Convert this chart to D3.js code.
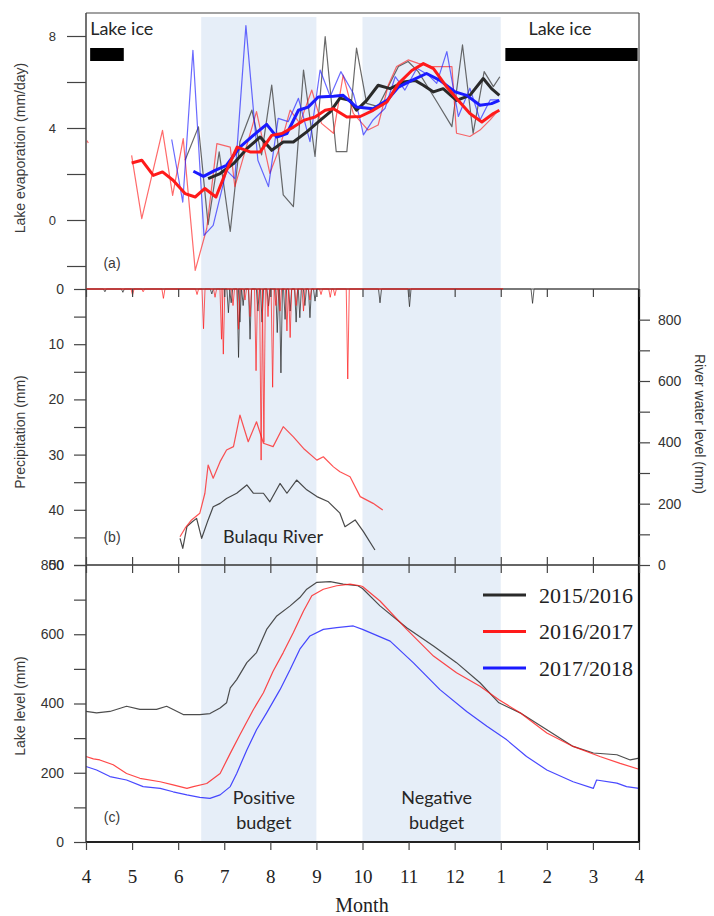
<!DOCTYPE html>
<html>
<head>
<meta charset="utf-8">
<script src="https://cdn.jsdelivr.net/npm/d3@7"></script>
<style>
  body { margin: 0; background: #fff; }
  svg { display: block; }
  .tick-sans text { font-family: 'Liberation Sans', Arial, sans-serif; font-size: 14px; fill: #333; }
  .tick-serif text { font-family: 'Liberation Serif', 'Times New Roman', serif; font-size: 19px; fill: #222; }
  .axis line { stroke: #444; stroke-width: 1.2; }
  .axis path.domain { display: none; }
  .title { font-family: 'Liberation Sans', Arial, sans-serif; font-size: 14px; fill: #3a3a3a; }
  .note { font-family: Lato, 'Open Sans', sans-serif; font-size: 18px; fill: #262626; }
  .legend { font-family: 'Liberation Serif', 'Times New Roman', serif; font-size: 22px; fill: #222; }
</style>
</head>
<body>
<script>
// x values are months counted from 1 April (0 = Apr 1, 12 = next Apr 1)
const monthLabels = [4, 5, 6, 7, 8, 9, 10, 11, 12, 1, 2, 3, 4];
const seasons = ['2015/2016', '2016/2017', '2017/2018'];

// (a) lake evaporation, mm/day: raw values and smoothed means
const evapRaw2015 = [[2.15,2.6],[2.44,4.05],[2.65,-0.2],[2.89,2.96],[3.13,-0.5],[3.34,3.4],[3.60,4.78],[3.81,2.83],[4.03,5.87],[4.28,1.09],[4.50,0.58],[4.72,6.52],[4.97,2.76],[5.19,7.97],[5.43,2.97],[5.66,2.97],[5.87,7.47],[6.09,5.07],[6.34,4.93],[6.56,5.8],[6.78,6.67],[6.99,6.89],[7.21,6.45],[7.39,5.87],[7.61,5.15],[7.94,4.06],[8.17,7.61],[8.40,3.77],[8.64,6.45],[8.84,5.8],[8.98,6.23]];
const evapRaw2016 = [[0.99,2.81],[1.21,0.06],[1.66,3.9],[1.88,1.07],[2.11,3.54],[2.37,-2.19],[2.62,-0.37],[2.84,3.32],[3.13,3.17],[3.23,1.45],[3.45,2.97],[3.70,4.71],[3.99,2.03],[4.21,3.19],[4.43,4.78],[4.64,4.2],[4.90,5.65],[5.11,4.2],[5.37,3.77],[5.58,6.3],[5.80,4.64],[6.12,3.91],[6.34,4.13],[6.56,5.87],[6.74,6.67],[6.99,6.96],[7.21,6.81],[7.50,6.67],[7.94,6.67],[8.04,3.77],[8.33,3.63],[8.55,3.91],[8.77,4.35],[8.95,4.78]];
const evapRaw2016Apr = [[0.02,3.45],[0.05,3.35]];
const evapRaw2017 = [[1.86,3.5],[2.10,0.78],[2.32,7.38],[2.56,-0.67],[2.76,-0.23],[3.05,2.16],[3.23,1.8],[3.47,8.45],[3.73,2.6],[3.96,1.45],[4.17,4.42],[4.39,4.28],[4.61,5.29],[4.86,3.41],[5.08,6.52],[5.30,5.37],[5.53,6.45],[5.80,5.51],[5.95,4.35],[6.02,3.7],[6.23,4.35],[6.49,4.86],[6.71,6.23],[6.92,5.65],[7.18,6.6],[7.43,6.3],[7.61,5.94],[7.83,7.32],[8.08,4.5],[8.33,5.73],[8.55,4.35],[8.77,5.22],[8.95,5.22]];
const evapMean2015 = [[2.65,1.8],[2.91,2.02],[3.20,2.45],[3.49,3.1],[3.78,3.61],[4.03,3.03],[4.28,3.39],[4.50,3.39],[4.79,3.83],[5.08,4.33],[5.30,4.7],[5.51,5.3],[5.73,5.2],[5.87,4.77],[6.09,5.2],[6.34,5.86],[6.60,5.71],[6.89,6.0],[7.14,6.07],[7.32,5.86],[7.54,5.57],[7.75,5.71],[8.04,5.2],[8.33,5.42],[8.62,6.15],[8.80,5.71],[8.97,5.42]];
const evapMean2016 = [[0.99,2.48],[1.21,2.6],[1.46,1.94],[1.66,2.09],[1.89,1.73],[2.15,1.15],[2.37,1.0],[2.58,1.37],[2.82,1.0],[3.05,2.16],[3.28,3.17],[3.56,2.96],[3.78,2.96],[4.03,3.68],[4.25,3.76],[4.50,4.04],[4.72,4.33],[4.97,4.48],[5.19,4.77],[5.37,4.84],[5.66,4.48],[5.95,4.5],[6.23,4.77],[6.53,5.13],[6.78,5.93],[7.07,6.5],[7.32,6.8],[7.54,6.58],[7.83,5.78],[8.08,5.2],[8.33,4.63],[8.59,4.26],[8.84,4.63],[8.97,4.77]];
const evapMean2017 = [[2.33,2.12],[2.55,1.9],[2.80,2.16],[3.05,2.38],[3.34,3.17],[3.63,3.68],[3.92,4.16],[4.14,3.61],[4.36,3.76],[4.61,4.77],[4.82,4.91],[5.04,5.35],[5.37,5.38],[5.58,5.42],[5.87,4.91],[6.23,4.84],[6.53,5.2],[6.78,5.78],[7.07,6.07],[7.39,6.37],[7.68,6.07],[8.01,5.57],[8.26,5.42],[8.55,4.99],[8.80,5.06],[8.97,5.2]];

// lake ice cover periods
const icePeriods = [[0.09, 0.82], [9.1, 11.97]];

// (b) daily precipitation events (mm) and Bulaqu River water level (mm)
const rain2015 = [[0.41,0.5],[0.80,0.6],[2.73,0.9],[3.09,4.3],[3.15,2.5],[3.31,12.4],[3.34,6],[3.41,3],[3.56,9.1],[3.73,4],[3.82,6],[3.96,3.1],[4.15,7.9],[4.23,15.2],[4.32,5.5],[4.43,4],[4.56,6],[4.64,5.2],[4.75,3],[4.86,5.2],[4.97,2.2],[6.38,2.5],[7.02,3.2],[9.69,2.6]];
const rain2016 = [[1.01,1.1],[1.24,0.5],[1.68,1.7],[2.41,1],[2.55,7.2],[2.80,1.5],[2.94,9.1],[2.98,11.8],[3.19,3],[3.31,7.3],[3.45,2],[3.56,5],[3.69,14.8],[3.80,31],[3.86,27.8],[3.95,5],[4.05,17.8],[4.12,3],[4.21,4],[4.36,7.6],[4.43,8.8],[4.56,3],[4.72,4],[4.86,2],[5.10,1],[5.30,1.5],[5.40,1.2],[5.68,16.3]];
const river2015 = [[2.04,87],[2.10,54],[2.19,125],[2.30,140],[2.40,152],[2.51,87],[2.65,147],[2.76,190],[2.91,201],[3.05,217],[3.27,234],[3.49,261],[3.63,234],[3.85,234],[3.99,206],[4.21,266],[4.36,234],[4.57,277],[4.79,245],[5.01,223],[5.26,206],[5.51,169],[5.62,125],[5.84,147],[6.02,109],[6.27,49]];
const river2016 = [[2.04,92],[2.15,120],[2.29,147],[2.47,169],[2.58,234],[2.65,326],[2.76,283],[2.91,337],[3.05,375],[3.20,386],[3.34,489],[3.52,402],[3.70,467],[3.85,397],[4.06,386],[4.28,451],[4.50,418],[4.72,380],[5.01,342],[5.15,353],[5.37,320],[5.51,304],[5.73,288],[5.95,223],[6.23,201],[6.44,179]];

// (c) lake level (mm)
const lake2015 = [[0,377],[0.23,373],[0.52,377],[0.88,392],[1.17,383],[1.53,383],[1.75,392],[2.11,368],[2.47,368],[2.69,371],[2.91,387],[3.05,402],[3.13,445],[3.27,469],[3.49,518],[3.70,547],[3.92,614],[4.14,653],[4.43,682],[4.64,706],[4.79,730],[5.01,750],[5.30,752],[5.58,745],[5.9,740],[6.0,732],[6.38,682],[6.96,619],[7.54,566],[8.04,518],[8.55,460],[8.96,402],[9.42,373],[10.0,324],[10.57,276],[11.01,257],[11.52,252],[11.81,237],[12,242]];
const lake2016 = [[0,247],[0.16,240],[0.30,237],[0.59,223],[0.88,198],[1.17,184],[1.61,174],[1.89,165],[2.19,155],[2.33,160],[2.62,169],[2.91,198],[3.13,256],[3.34,310],[3.63,382],[3.85,431],[4.06,493],[4.28,547],[4.50,605],[4.72,667],[4.90,711],[5.15,730],[5.44,740],[5.73,745],[5.95,740],[6.0,738],[6.38,696],[6.96,614],[7.54,537],[8.04,489],[8.55,450],[8.96,411],[9.42,373],[10.0,315],[10.57,276],[11.15,247],[11.59,227],[12,210]];
const lake2017 = [[0,218],[0.23,208],[0.52,189],[0.88,179],[1.24,160],[1.61,155],[1.89,145],[2.19,136],[2.47,129],[2.69,126],[2.91,136],[3.13,160],[3.27,198],[3.49,266],[3.70,324],[3.92,373],[4.21,440],[4.43,498],[4.64,557],[4.86,595],[5.15,614],[5.44,619],[5.80,624],[6.0,614],[6.60,580],[7.10,518],[7.68,440],[8.26,377],[8.70,334],[9.13,295],[9.56,247],[10.0,208],[10.57,174],[11.01,155],[11.08,179],[11.52,170],[11.73,160],[12,155]];

// water budget periods shaded in blue
const budgetPeriods = [
  { from: 2.5, to: 5, label: ['Positive', 'budget'] },
  { from: 6, to: 9, label: ['Negative', 'budget'] }
];

const black = '#2a2a2a';
const red = '#ff1a1a';
const blue = '#1a1aff';
const shade = '#e6eef8';
const left = 86;
const right = 639;
const aTop = 13;
const bTop = 289;
const cTop = 565;
const cBottom = 842;

const svg = d3.select('body')
  .append('svg')
  .attr('width', 714)
  .attr('height', 916)
  .style('background', '#fff');

const x = d3.scaleLinear().domain([0, 12]).range([left, right]);
const yEvap = d3.scaleLinear().domain([-3, 9]).range([bTop, aTop]);
const yRain = d3.scaleLinear().domain([0, 50]).range([bTop, cTop]);
const yRiver = d3.scaleLinear().domain([0, 900]).range([cTop, bTop]);
const yLake = d3.scaleLinear().domain([0, 800]).range([cBottom, cTop]);

// shaded budget periods
svg.selectAll('.budget')
  .data(budgetPeriods)
  .enter()
  .append('rect')
  .attr('class', 'budget')
  .attr('x', d => x(d.from))
  .attr('width', d => x(d.to) - x(d.from))
  .attr('y', aTop + 4)
  .attr('height', cBottom - aTop - 4)
  .attr('fill', shade);

const line = yScale => d3.line().x(d => x(d[0])).y(d => yScale(d[1]));

const drawLine = (data, yScale, color, width, opacity) =>
  svg.append('path')
    .datum(data)
    .attr('d', line(yScale))
    .attr('fill', 'none')
    .attr('stroke', color)
    .attr('stroke-width', width)
    .attr('stroke-opacity', opacity)
    .attr('stroke-linejoin', 'round');

// (a) evaporation
drawLine(evapRaw2015, yEvap, '#444', 1.2, 0.8);
drawLine(evapRaw2016, yEvap, red, 1.2, 0.65);
drawLine(evapRaw2016Apr, yEvap, red, 1.2, 0.65);
drawLine(evapRaw2017, yEvap, blue, 1.2, 0.65);
drawLine(evapMean2015, yEvap, black, 3, 1);
drawLine(evapMean2017, yEvap, blue, 3, 1);
drawLine(evapMean2016, yEvap, red, 3, 1);

// (b) precipitation as daily spikes hanging from the top
const day = 1 / 30.4;
const rainSeries = (events, end) => {
  const pts = [[0, 0]];
  events.forEach(([m, v]) => pts.push([m - day, 0], [m, v], [m + day, 0]));
  pts.push([end, 0]);
  return pts;
};
drawLine(rainSeries(rain2015, 12), yRain, black, 1, 0.75);
drawLine(rainSeries(rain2016, 9.05), yRain, red, 1, 0.7);

drawLine(river2015, yRiver, black, 1.2, 0.85);
drawLine(river2016, yRiver, red, 1.2, 0.75);

// (c) lake level
drawLine(lake2015, yLake, '#3a3a3a', 1.2, 0.9);
drawLine(lake2016, yLake, red, 1.2, 0.8);
drawLine(lake2017, yLake, blue, 1.2, 0.8);

// lake ice bars
svg.selectAll('.ice')
  .data(icePeriods)
  .enter()
  .append('rect')
  .attr('class', 'ice')
  .attr('x', d => x(d[0]))
  .attr('width', d => x(d[1]) - x(d[0]))
  .attr('y', 48)
  .attr('height', 13)
  .attr('fill', '#000');

svg.append('text').attr('class', 'note').attr('x', x(icePeriods[0][0])).attr('y', 35).text('Lake ice');
svg.append('text').attr('class', 'note').attr('x', 560).attr('y', 35)
  .attr('text-anchor', 'middle').text('Lake ice');

// frame
const frame = [
  [left, aTop, right, aTop, 1.2, '#444'],
  [left, aTop, left, cBottom, 1.5, '#444'],
  [right, aTop, right, bTop, 1.2, '#444'],
  [right, bTop, right, cBottom, 2.2, '#111'],
  [left, bTop, right, bTop, 1.2, '#444'],
  [left, cTop, right, cTop, 1.5, '#333'],
  [left, cBottom, right, cBottom, 2, '#222']
];
svg.selectAll('.frame')
  .data(frame)
  .enter()
  .append('line')
  .attr('x1', d => d[0]).attr('y1', d => d[1])
  .attr('x2', d => d[2]).attr('y2', d => d[3])
  .attr('stroke-width', d => d[4])
  .attr('stroke', d => d[5]);

// redraw red rain baseline over the frame
drawLine([[0, 0], [9.05, 0]], yRain, red, 1, 0.9);

// left axes
svg.append('g')
  .attr('class', 'axis tick-sans')
  .attr('transform', `translate(${left},0)`)
  .call(d3.axisLeft(yEvap).tickValues([-2, 0, 2, 4, 6, 8]).tickSize(19).tickPadding(11)
    .tickFormat(d => (d % 4 === 0 ? d : '')))
  .selectAll('text').style('font-size', '13px');

svg.append('g')
  .attr('class', 'axis tick-sans')
  .attr('transform', `translate(${left},0)`)
  .call(d3.axisLeft(yRain).tickValues(d3.range(0, 51, 5)).tickSize(12).tickPadding(10)
    .tickFormat(d => (d % 10 === 0 ? d : '')));

svg.append('g')
  .attr('class', 'axis tick-sans')
  .attr('transform', `translate(${left},0)`)
  .call(d3.axisLeft(yLake).tickValues(d3.range(0, 801, 100)).tickSize(12).tickPadding(10)
    .tickFormat(d => (d % 200 === 0 ? d : '')));

// right axis (river level)
svg.append('g')
  .attr('class', 'axis tick-sans')
  .attr('transform', `translate(${right},0)`)
  .call(d3.axisRight(yRiver).tickValues(d3.range(0, 801, 100)).tickSize(11).tickPadding(8)
    .tickFormat(d => (d % 200 === 0 ? d : '')));

// month ticks on panel edges
const monthTicks = d3.range(13);
svg.append('g').attr('class', 'axis').attr('transform', `translate(0,${bTop})`)
  .call(d3.axisBottom(x).tickValues(monthTicks).tickSize(8).tickFormat(''));
svg.append('g').attr('class', 'axis').attr('transform', `translate(0,${cTop})`)
  .call(d3.axisTop(x).tickValues(monthTicks).tickSize(8).tickFormat(''));
svg.append('g').attr('class', 'axis').attr('transform', `translate(0,${cTop})`)
  .call(d3.axisBottom(x).tickValues(monthTicks).tickSize(8).tickFormat(''));

const xAxis = svg.append('g')
  .attr('class', 'axis tick-serif')
  .attr('transform', `translate(0,${cBottom})`)
  .call(d3.axisBottom(x).tickValues(monthTicks).tickSize(8).tickFormat(i => monthLabels[i]));
xAxis.selectAll('text').attr('y', 41).attr('dy', 0);

svg.append('text')
  .attr('x', 362)
  .attr('y', 912)
  .attr('text-anchor', 'middle')
  .style('font-family', "'Liberation Serif', 'Times New Roman', serif")
  .style('font-size', '20px')
  .style('fill', '#222')
  .text('Month');

// axis titles
const titles = [
  ['Lake evaporation (mm/day)', 20, 148, -90],
  ['Precipitation (mm)', 20, 432, -90],
  ['Lake level (mm)', 20, 706, -90],
  ['River water level (mm)', 700, 424, 90]
];
titles.forEach(([t, tx, ty, r]) => {
  svg.append('text')
    .attr('class', 'title')
    .attr('text-anchor', 'middle')
    .attr('dominant-baseline', 'central')
    .attr('transform', `translate(${tx},${ty}) rotate(${r})`)
    .text(t);
});

// panel letters
[['(a)', 268], ['(b)', 542], ['(c)', 822]].forEach(([t, ty]) => {
  svg.append('text')
    .attr('class', 'title')
    .attr('x', 112)
    .attr('y', ty)
    .attr('text-anchor', 'middle')
    .text(t);
});

svg.append('text').attr('class', 'note').attr('x', 273).attr('y', 543)
  .attr('text-anchor', 'middle').text('Bulaqu River');

budgetPeriods.forEach(p => {
  p.label.forEach((t, i) => {
    svg.append('text')
      .attr('class', 'note')
      .attr('x', (x(p.from) + x(p.to)) / 2 + 5)
      .attr('y', 804 + i * 25)
      .attr('text-anchor', 'middle')
      .text(t);
  });
});

// legend
const legendColors = [black, red, blue];
const legend = svg.selectAll('.legend-item')
  .data(seasons)
  .enter()
  .append('g')
  .attr('transform', (d, i) => `translate(483,${595 + i * 36.5})`);
legend.append('line')
  .attr('x1', 0).attr('x2', 43)
  .attr('stroke', (d, i) => legendColors[i])
  .attr('stroke-width', 3);
legend.append('text')
  .attr('class', 'legend')
  .attr('x', 56)
  .attr('dy', '0.35em')
  .text(d => d);
</script>
</body>
</html>
